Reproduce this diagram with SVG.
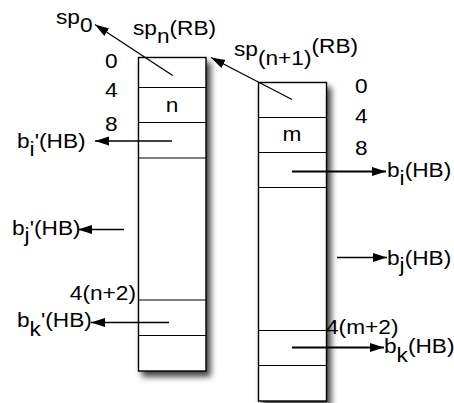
<svg xmlns="http://www.w3.org/2000/svg" width="454" height="403" viewBox="0 0 454 403">
<defs>
<filter id="shadow" x="-20%" y="-10%" width="150%" height="130%">
<feGaussianBlur in="SourceAlpha" stdDeviation="3"/>
<feOffset dx="4" dy="5" result="b"/>
<feComponentTransfer><feFuncA type="linear" slope="0.75"/></feComponentTransfer>
<feMerge><feMergeNode/><feMergeNode in="SourceGraphic"/></feMerge>
</filter>
<marker id="ah" markerUnits="userSpaceOnUse" markerWidth="16" markerHeight="10" refX="14" refY="4.5" orient="auto">
<path d="M0,0 L14,4.5 L0,9 z" fill="#000"/>
</marker>
</defs>
<style>
.box{fill:#fff;stroke:#000;stroke-width:1.4}
.row{stroke:#000;stroke-width:1.1}
.t{font-family:"Liberation Sans",Arial,sans-serif;font-size:21px;fill:#000}
.c{stroke:#000;stroke-width:1.3;fill:none;marker-end:url(#ah)}
.ct{stroke-width:1.9}
</style>
<rect width="454" height="403" fill="#fff"/>
<g id="stack-n">
<rect class="box" x="138.5" y="57.5" width="67.5" height="313.5" filter="url(#shadow)"/>
<line class="row" x1="138.5" y1="87.5" x2="206" y2="87.5"/>
<line class="row" x1="138.5" y1="122.5" x2="206" y2="122.5"/>
<line class="row" x1="138.5" y1="158" x2="206" y2="158"/>
<line class="row" x1="138.5" y1="300" x2="206" y2="300"/>
<line class="row" x1="138.5" y1="335.5" x2="206" y2="335.5"/>
<text class="t" text-anchor="middle" transform="matrix(1.08 0 0 1 172 112)">n</text>
<text class="t" transform="matrix(1.08 0 0 1 105 68)">0</text>
<text class="t" transform="matrix(1.08 0 0 1 105 97)">4</text>
<text class="t" transform="matrix(1.08 0 0 1 105 131)">8</text>
<text class="t" text-anchor="end" transform="matrix(1.08 0 0 1 136 300)">4(n+2)</text>
</g>
<g id="stack-m">
<rect class="box" x="258.5" y="82.5" width="68" height="318.5" filter="url(#shadow)"/>
<line class="row" x1="258.5" y1="117.5" x2="326.5" y2="117.5"/>
<line class="row" x1="258.5" y1="152.5" x2="326.5" y2="152.5"/>
<line class="row" x1="258.5" y1="187.5" x2="326.5" y2="187.5"/>
<line class="row" x1="258.5" y1="330.5" x2="326.5" y2="330.5"/>
<line class="row" x1="258.5" y1="365.5" x2="326.5" y2="365.5"/>
<text class="t" text-anchor="middle" transform="matrix(1.08 0 0 1 292 141)">m</text>
<text class="t" transform="matrix(1.08 0 0 1 355 93)">0</text>
<text class="t" transform="matrix(1.08 0 0 1 355 123)">4</text>
<text class="t" transform="matrix(1.08 0 0 1 355 155)">8</text>
<text class="t" transform="matrix(1.08 0 0 1 326 334)">4(m+2)</text>
</g>
<g id="label-sp0"><text class="t" transform="matrix(1.08 0 0 1 56 24)">sp<tspan dy="8">0</tspan></text></g>
<g id="label-spn"><text class="t" transform="matrix(1.08 0 0 1 133 35)">sp<tspan dy="8">n</tspan><tspan dy="-8">(RB)</tspan></text></g>
<g id="label-spn1"><text class="t" transform="matrix(1.08 0 0 1 234 56)">sp<tspan dy="9">(n+1)</tspan><tspan dy="-12">(RB)</tspan></text></g>
<g id="label-bi-prime"><text class="t" transform="matrix(1.08 0 0 1 17 148)">b<tspan dy="8">i</tspan><tspan dy="-8">'(HB)</tspan></text></g>
<g id="label-bj-prime"><text class="t" transform="matrix(1.08 0 0 1 12 235)">b<tspan dy="7">j</tspan><tspan dy="-7">'(HB)</tspan></text></g>
<g id="label-bk-prime"><text class="t" transform="matrix(1.08 0 0 1 17 327)">b<tspan dy="9">k</tspan><tspan dy="-9">'(HB)</tspan></text></g>
<g id="label-bi"><text class="t" transform="matrix(1.08 0 0 1 387 177)">b<tspan dy="8">i</tspan><tspan dy="-8">(HB)</tspan></text></g>
<g id="label-bj"><text class="t" transform="matrix(1.08 0 0 1 387 265)">b<tspan dy="7">j</tspan><tspan dy="-7">(HB)</tspan></text></g>
<g id="label-bk"><text class="t" transform="matrix(1.08 0 0 1 384 353)">b<tspan dy="9">k</tspan><tspan dy="-9">(HB)</tspan></text></g>
<g id="connectors">
<line class="c" x1="172.7" y1="75.5" x2="95" y2="24.5"/>
<line class="c" x1="292" y1="99.5" x2="211" y2="57.5"/>
<line class="c" x1="172" y1="141" x2="95" y2="141"/>
<line class="c" x1="124" y1="229.5" x2="78" y2="229.5"/>
<line class="c" x1="169" y1="322.5" x2="91" y2="322.5"/>
<line class="c ct" x1="292" y1="171.5" x2="386" y2="171.5"/>
<line class="c" x1="337" y1="257.5" x2="387" y2="257.5"/>
<line class="c ct" x1="292" y1="347.5" x2="384" y2="347.5"/>
</g>
</svg>
